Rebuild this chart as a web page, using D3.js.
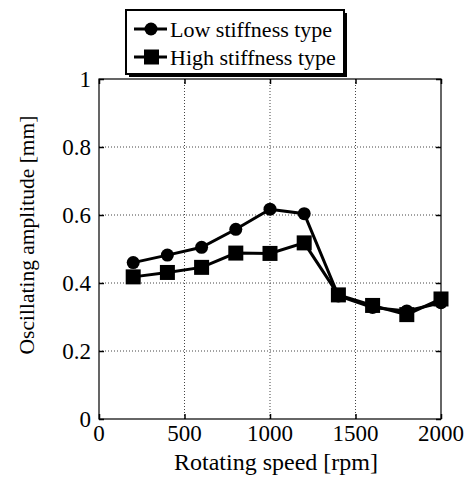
<!DOCTYPE html>
<html>
<head>
<meta charset="utf-8">
<script src="https://cdn.jsdelivr.net/npm/d3@7"></script>
<style>
  body { margin: 0; background: #fff; }
</style>
</head>
<body>
<svg id="chart"></svg>
<script>
const speeds = [200, 400, 600, 800, 1000, 1200, 1400, 1600, 1800, 2000];
const lowStiffness = [0.46, 0.482, 0.505, 0.558, 0.617, 0.604, 0.362, 0.328, 0.318, 0.342];
const highStiffness = [0.418, 0.431, 0.446, 0.488, 0.487, 0.518, 0.365, 0.334, 0.307, 0.353];
const xTicks = [0, 500, 1000, 1500, 2000];
const yTicks = [0, 0.2, 0.4, 0.6, 0.8, 1];

const w = 469;
const h = 483;
const margin = { top: 79, right: 28, bottom: 64, left: 99 };
const font = "'Liberation Serif', 'Times New Roman', serif";

const svg = d3.select('#chart').attr('width', w).attr('height', h)
  .attr('font-family', font);

const x = d3.scaleLinear().domain([0, 2000]).range([margin.left, w - margin.right]);
const y = d3.scaleLinear().domain([0, 1]).range([h - margin.bottom, margin.top]);

// grid
svg.append('g')
  .selectAll('line')
  .data(xTicks.slice(1, -1))
  .join('line')
  .attr('x1', (d) => x(d)).attr('x2', (d) => x(d))
  .attr('y1', y(0)).attr('y2', y(1))
  .attr('stroke', '#444').attr('stroke-width', 1).attr('stroke-dasharray', '1,2');
svg.append('g')
  .selectAll('line')
  .data(yTicks.slice(1, -1))
  .join('line')
  .attr('x1', x(0)).attr('x2', x(2000))
  .attr('y1', (d) => y(d)).attr('y2', (d) => y(d))
  .attr('stroke', '#444').attr('stroke-width', 1).attr('stroke-dasharray', '1,2');

// frame
svg.append('rect')
  .attr('x', x(0)).attr('y', y(1))
  .attr('width', x(2000) - x(0)).attr('height', y(0) - y(1))
  .attr('fill', 'none').attr('stroke', '#000').attr('stroke-width', 1.2);

// inward ticks
const xb = d3.axisBottom(x).tickValues(xTicks).tickSizeInner(-5).tickSizeOuter(0).tickFormat('');
const xt = d3.axisTop(x).tickValues(xTicks).tickSizeInner(-5).tickSizeOuter(0).tickFormat('');
const yl = d3.axisLeft(y).tickValues(yTicks).tickSizeInner(-5).tickSizeOuter(0).tickFormat('');
const yr = d3.axisRight(y).tickValues(yTicks).tickSizeInner(-5).tickSizeOuter(0).tickFormat('');
svg.append('g').attr('transform', `translate(0,${y(0)})`).call(xb);
svg.append('g').attr('transform', `translate(0,${y(1)})`).call(xt);
svg.append('g').attr('transform', `translate(${x(0)},0)`).call(yl);
svg.append('g').attr('transform', `translate(${x(2000)},0)`).call(yr);
svg.selectAll('.domain').remove();
svg.selectAll('.tick line').attr('stroke', '#000').attr('stroke-width', 1.5);

// tick labels
svg.append('g')
  .selectAll('text')
  .data(xTicks)
  .join('text')
  .attr('x', (d) => x(d))
  .attr('y', y(0) + 22)
  .attr('text-anchor', 'middle')
  .attr('font-family', font)
  .attr('font-size', 23)
  .text((d) => d);
svg.append('g')
  .selectAll('text')
  .data(yTicks)
  .join('text')
  .attr('x', x(0) - 8)
  .attr('y', (d) => y(d))
  .attr('dy', '0.35em')
  .attr('text-anchor', 'end')
  .attr('font-family', font)
  .attr('font-size', 23)
  .text((d) => d);

// axis titles
svg.append('text')
  .attr('x', 276)
  .attr('y', 470)
  .attr('text-anchor', 'middle')
  .attr('font-family', font)
  .attr('font-size', 24)
  .text('Rotating speed [rpm]');
svg.append('text')
  .attr('transform', `translate(34,${235}) rotate(-90)`)
  .attr('text-anchor', 'middle')
  .attr('font-family', font)
  .attr('font-size', 21.5)
  .text('Oscillating amplitude [mm]');

// series
const series = [
  { name: 'Low stiffness type', values: lowStiffness, marker: 'circle' },
  { name: 'High stiffness type', values: highStiffness, marker: 'square' }
];
const line = d3.line().x((d) => x(d[0])).y((d) => y(d[1]));

series.forEach((s) => {
  const pts = speeds.map((v, i) => [v, s.values[i]]);
  svg.append('path')
    .datum(pts)
    .attr('d', line)
    .attr('fill', 'none')
    .attr('stroke', '#000')
    .attr('stroke-width', 3);
  if (s.marker === 'circle') {
    svg.append('g').selectAll('circle').data(pts).join('circle')
      .attr('cx', (d) => x(d[0])).attr('cy', (d) => y(d[1]))
      .attr('r', 6.5).attr('fill', '#000');
  } else {
    svg.append('g').selectAll('rect').data(pts).join('rect')
      .attr('x', (d) => x(d[0]) - 7.5).attr('y', (d) => y(d[1]) - 7.5)
      .attr('width', 15).attr('height', 15).attr('fill', '#000');
  }
});

// legend
const lg = svg.append('g');
lg.append('rect').attr('x', 129).attr('y', 13).attr('width', 218).attr('height', 64).attr('fill', '#000');
lg.append('rect').attr('x', 126).attr('y', 10).attr('width', 218).attr('height', 64)
  .attr('fill', '#fff').attr('stroke', '#000').attr('stroke-width', 2);
series.forEach((s, i) => {
  const cy = 29 + i * 28;
  lg.append('line').attr('x1', 134).attr('x2', 167).attr('y1', cy).attr('y2', cy)
    .attr('stroke', '#000').attr('stroke-width', 3);
  if (s.marker === 'circle') {
    lg.append('circle').attr('cx', 151).attr('cy', cy).attr('r', 6.5).attr('fill', '#000');
  } else {
    lg.append('rect').attr('x', 144).attr('y', cy - 7.5).attr('width', 15).attr('height', 15).attr('fill', '#000');
  }
  lg.append('text').attr('x', 170).attr('y', cy).attr('dy', '0.35em')
    .attr('font-family', font)
    .attr('font-size', 22).text(s.name);
});
</script>
</body>
</html>
